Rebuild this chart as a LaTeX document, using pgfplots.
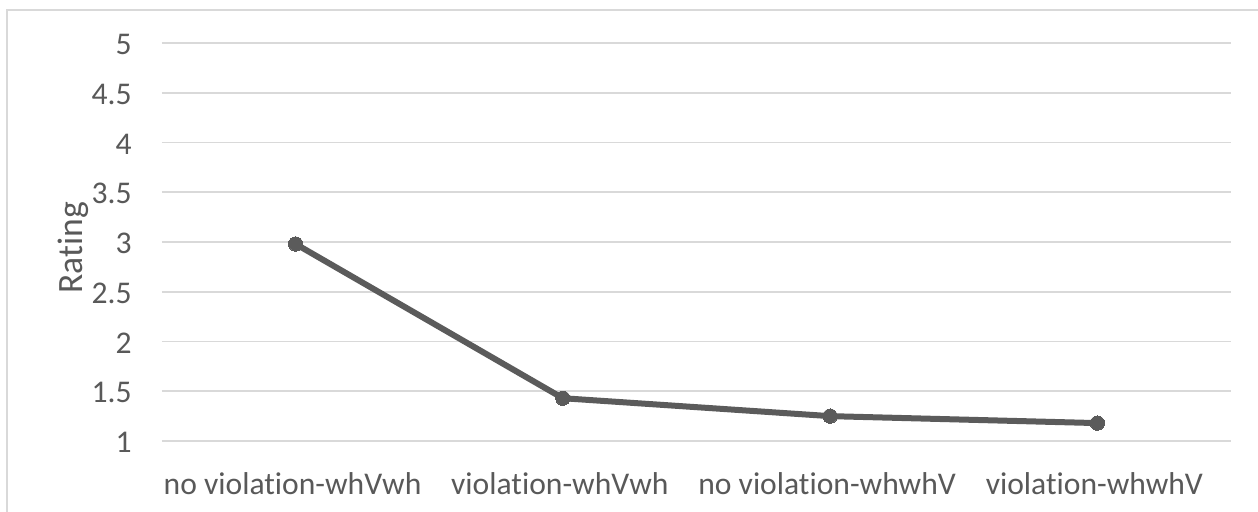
\documentclass[border=0pt]{standalone}
\usepackage{pgfplots}
\pgfplotsset{compat=1.18}
\usepackage{fontspec}
\setmainfont{Carlito}[Ligatures=NoCommon]
\definecolor{txt}{HTML}{595959}
\definecolor{grd}{HTML}{D9D9D9}
\definecolor{ln}{HTML}{5B5B5B}

\begin{document}
\begin{tikzpicture}
	% page = 1258 x 511 px, 1 px = 0.5 pt, axis origin at px (162,441)
	\useasboundingbox (-81pt,-35pt) rectangle (548pt,220.5pt);
	\fill[white] (-81pt,-35pt) rectangle (548pt,220.5pt);
	\draw[grd, line width=1pt] (-77.5pt,-40pt) -- (-77.5pt,215.5pt) -- (560pt,215.5pt);
	\begin{axis}[
			at={(0,0)}, anchor=south west,
			scale only axis,
			width=534.5pt,
			height=199pt,
			xmin=-0.5, xmax=3.5,
			ymin=1, ymax=5,
			ytick={1,1.5,...,5},
			yticklabels={1,1.5,2,2.5,3,3.5,4,4.5,5},
			xtick=data,
			xticklabels={no violation-whVwh,violation-whVwh,no violation-whwhV,violation-whwhV},
			major tick length=0pt,
			axis line style={draw=none},
			ymajorgrids,
			grid style={grd, line width=0.8pt},
			x tick label style={font=\fontsize{15.8}{18}\selectfont, anchor=base, yshift=-26.5pt, xshift=-1.5pt, text=txt, inner sep=0pt},
			y tick label style={font=\fontsize{15.8}{18}\selectfont, anchor=east, xshift=-15pt, yshift=-0.8pt, text=txt, inner sep=0pt},
			ylabel={Rating},
			ylabel style={font=\fontsize{17.8}{20}\selectfont, at={(axis description cs:-0.0748,0.485)}, anchor=base, text=txt, inner sep=0pt},
			clip=false,
		]

		\addplot[ln, line width=3pt, mark=*, mark size=3.6pt, mark options={fill=ln, draw=ln, line width=0pt}] coordinates {
			(0, 2.98)
			(1, 1.43)
			(2, 1.25)
			(3, 1.18)
		};

	\end{axis}
\end{tikzpicture}
\end{document}
